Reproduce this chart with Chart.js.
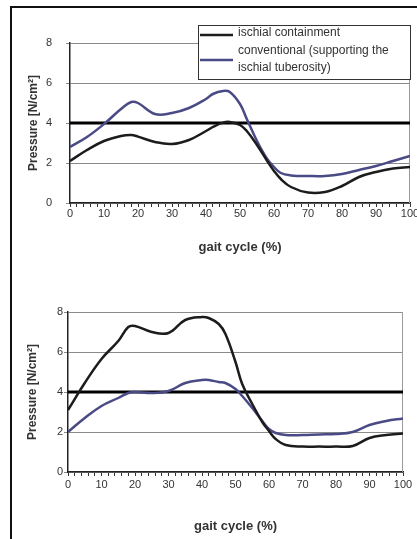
<!DOCTYPE html>
<html>
<head>
<meta charset="utf-8">
<script src="https://cdn.jsdelivr.net/npm/chart.js@4.4.0/dist/chart.umd.min.js"></script>
<style>
  body { margin: 0; background: #fff; width: 417px; height: 539px; overflow: hidden; position: relative; }
  #frame { position: absolute; left: 10px; top: 6px; right: -4px; bottom: -4px; border-left: 2px solid #111; border-top: 2px solid #111; }
  #c1 { position: absolute; left: 12px; top: 8px; }
  #c2 { position: absolute; left: 12px; top: 275px; }
</style>
</head>
<body>
<div id="frame"></div>
<canvas id="c1" width="405" height="255"></canvas>
<canvas id="c2" width="405" height="264"></canvas>
<script>
// gait cycle positions (%) where the curves were read
var gait = [0, 5, 10, 15, 18, 20, 25, 30, 35, 40, 42, 45, 47, 50, 52, 55, 58, 60, 62, 65, 70, 75, 80, 85, 90, 95, 100];

// upper chart
var topIschial      = [2.1, 2.65, 3.1, 3.35, 3.4, 3.32, 3.05, 2.95, 3.15, 3.6, 3.8, 4.02, 4.05, 3.9, 3.6, 2.9, 2.1, 1.6, 1.2, 0.8, 0.52, 0.55, 0.85, 1.3, 1.55, 1.72, 1.8];
var topConventional = [2.8, 3.3, 3.95, 4.7, 5.05, 5.0, 4.45, 4.5, 4.75, 5.2, 5.45, 5.6, 5.55, 4.95, 4.2, 3.1, 2.2, 1.8, 1.5, 1.38, 1.35, 1.35, 1.45, 1.65, 1.85, 2.1, 2.35];

// lower chart
var botIschial      = [3.1, 4.45, 5.65, 6.55, 7.25, 7.3, 7.0, 6.95, 7.6, 7.75, 7.7, 7.4, 6.9, 5.5, 4.4, 3.4, 2.5, 2.05, 1.65, 1.35, 1.27, 1.27, 1.27, 1.3, 1.7, 1.85, 1.93];
var botConventional = [2.0, 2.7, 3.3, 3.7, 3.95, 4.0, 3.95, 4.05, 4.45, 4.6, 4.6, 4.5, 4.45, 4.15, 3.8, 3.2, 2.55, 2.15, 1.95, 1.85, 1.85, 1.88, 1.9, 2.0, 2.35, 2.55, 2.68];

var limit = 4;
var yTicks = [0, 2, 4, 6, 8];
var xTickLabels = [0, 10, 20, 30, 40, 50, 60, 70, 80, 90, 100];
var seriesNames = ['ischial containment', 'conventional (supporting the ischial tuberosity)'];
var legendLines = [['ischial containment'], ['conventional (supporting the', 'ischial tuberosity)']];

var BLACK = '#1c1c1c';
var BLUE = '#4a4a86';
var FONT = "'Liberation Sans', Arial, sans-serif";

function pts(ys) {
  return gait.map(function (x, i) { return { x: x, y: ys[i] }; });
}

var plotBorder = {
  id: 'plotBorder',
  beforeDatasetsDraw: function (chart) {
    var a = chart.chartArea, ctx = chart.ctx;
    ctx.save();
    ctx.strokeStyle = '#9a9a9a';
    ctx.lineWidth = 1;
    ctx.beginPath();
    ctx.moveTo(a.right - 0.5, a.top);
    ctx.lineTo(a.right - 0.5, a.bottom);
    ctx.stroke();
    ctx.restore();
  }
};

var boxLegend = {
  id: 'boxLegend',
  afterDraw: function (chart) {
    var a = chart.chartArea, ctx = chart.ctx;
    var w = 212, h = 54, x = a.right - w, y = a.top - 18;
    var sampleY = [10, 35], rowY = [[8], [26, 43]];
    ctx.save();
    ctx.fillStyle = '#fff';
    ctx.fillRect(x, y, w, h);
    ctx.strokeStyle = '#333';
    ctx.lineWidth = 1;
    ctx.strokeRect(x + 0.5, y + 0.5, w, h);
    ctx.font = '12px ' + FONT;
    ctx.textBaseline = 'middle';
    ctx.fillStyle = '#333';
    chart.data.datasets.slice(0, 2).forEach(function (ds, i) {
      ctx.strokeStyle = ds.borderColor;
      ctx.lineWidth = 2.5;
      ctx.beginPath();
      ctx.moveTo(x + 2, y + sampleY[i]);
      ctx.lineTo(x + 35, y + sampleY[i]);
      ctx.stroke();
      legendLines[i].forEach(function (t, j) {
        ctx.fillText(t, x + 40, y + rowY[i][j]);
      });
    });
    ctx.restore();
  }
};

function makeChart(id, ischial, conventional, lay, withLegend) {
  var plugins = [plotBorder];
  if (withLegend) plugins.push(boxLegend);
  return new Chart(document.getElementById(id).getContext('2d'), {
    type: 'line',
    data: {
      datasets: [
        { label: seriesNames[0], data: pts(ischial), borderColor: BLACK, borderWidth: 2.5, pointRadius: 0, tension: 0.4, fill: false },
        { label: seriesNames[1], data: pts(conventional), borderColor: BLUE, borderWidth: 2.5, pointRadius: 0, tension: 0.4, fill: false },
        { label: 'limit', data: [{ x: 0, y: limit }, { x: 100, y: limit }], borderColor: '#000', borderWidth: 3, pointRadius: 0, fill: false }
      ]
    },
    options: {
      responsive: false,
      animation: false,
      layout: { padding: lay.padding },
      plugins: { legend: { display: false }, tooltip: { enabled: false } },
      scales: {
        x: {
          type: 'linear', min: 0, max: 100,
          ticks: {
            stepSize: 2, autoSkip: false, maxRotation: 0, padding: lay.xPad,
            color: '#333', font: { size: 11, family: FONT },
            callback: function (v) { return xTickLabels.indexOf(v) >= 0 ? String(v) : ''; }
          },
          grid: { drawOnChartArea: false, color: '#333', tickLength: 4 },
          border: { color: '#222', width: 1.5 },
          title: { display: true, text: 'gait cycle (%)', color: '#333', font: { size: 13, weight: 'bold', family: FONT } },
          afterFit: function (s) { s.height = lay.xH; s.paddingLeft = 0; s.paddingRight = 0; }
        },
        y: {
          type: 'linear', min: 0, max: 8,
          afterBuildTicks: function (s) { s.ticks = yTicks.map(function (v) { return { value: v }; }); },
          ticks: { padding: lay.yPad, color: '#333', font: { size: 11, family: FONT } },
          grid: { color: '#8a8a8a', tickLength: 4 },
          border: { color: '#222', width: 1.5 },
          title: { display: true, text: 'Pressure [N/cm²]', color: '#333', font: { size: 12, weight: 'bold', family: FONT } },
          afterFit: function (s) { s.width = lay.yW; }
        }
      }
    },
    plugins: plugins
  });
}

makeChart('c1', topIschial, topConventional,
  { padding: { left: 10, top: 35, right: 7, bottom: 4 }, yW: 48, xH: 56, xPad: 0, yPad: 14 }, true);
makeChart('c2', botIschial, botConventional,
  { padding: { left: 9, top: 37, right: 14, bottom: 1 }, yW: 47, xH: 66, xPad: 2, yPad: 1 }, false);
</script>
</body>
</html>
